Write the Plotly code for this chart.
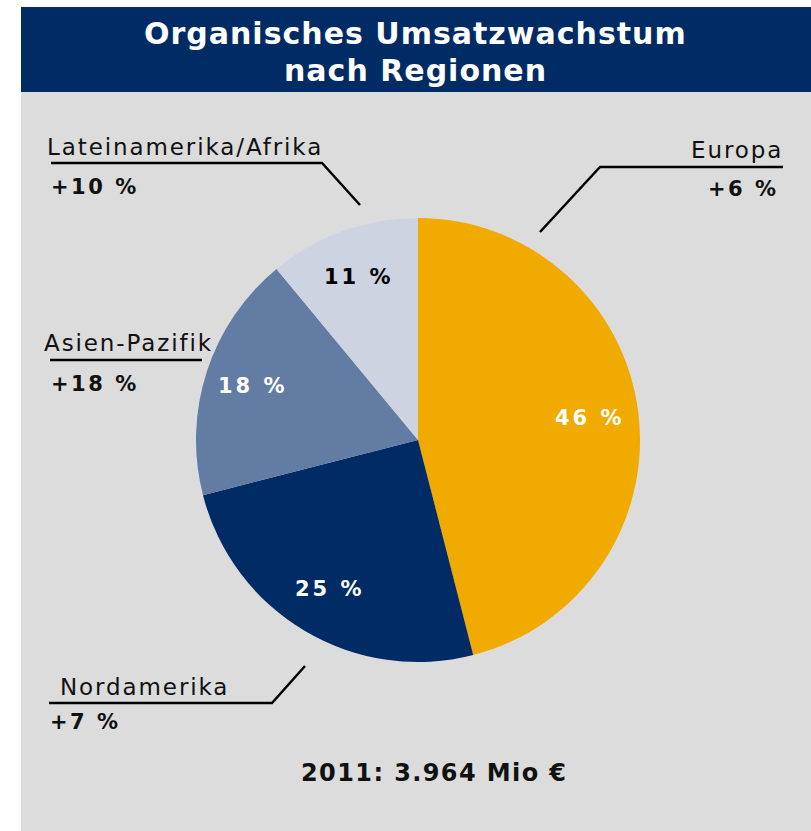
import math
import plotly.graph_objects as go

# ---- data ----
regions = ["Europa", "Nordamerika", "Asien-Pazifik", "Lateinamerika/Afrika"]
shares = [46, 25, 18, 11]
share_labels = ["46 %", "25 %", "18 %", "11 %"]
growth_labels = ["+6 %", "+7 %", "+18 %", "+10 %"]
title_lines = ["Organisches Umsatzwachstum", "nach Regionen"]
footer = "2011: 3.964 Mio €"

# ---- styles ----
W, H = 811, 831
NAVY = "#002B64"
ORANGE = "#F0AA00"
SLATE = "#637CA4"
LIGHT = "#CDD3E1"
GRAY = "#DCDCDC"
slice_colors = [ORANGE, NAVY, SLATE, LIGHT]
text_colors = ["white", "white", "white", "black"]
FONT = "DejaVu Sans"
LABEL_R = 0.78  # radial position of the share labels (fraction of radius)

# pie geometry (pixels)
cx, cy, r = 418, 440, 222

fig = go.Figure()
fig.add_trace(go.Pie(
    labels=regions, values=shares,
    textinfo="none",
    sort=False, direction="clockwise", rotation=0,
    marker=dict(colors=slice_colors, line=dict(width=0)),
    hoverinfo="skip", showlegend=False,
    domain=dict(x=[(cx - r) / W, (cx + r) / W],
                y=[(H - cy - r) / H, (H - cy + r) / H]),
))

# pixel-coordinate helper axes
fig.update_xaxes(range=[0, W], visible=False, fixedrange=True)
fig.update_yaxes(range=[H, 0], visible=False, fixedrange=True)

shapes = [
    dict(type="rect", x0=21, x1=W, y0=92, y1=H, fillcolor=GRAY, line_width=0, layer="below"),
    dict(type="rect", x0=21, x1=W, y0=7, y1=92, fillcolor=NAVY, line_width=0, layer="below"),
]
leaders = {
    "Lateinamerika/Afrika": [(51, 163), (322, 163), (360, 205)],
    "Europa": [(783, 167), (600, 167), (540, 232)],
    "Asien-Pazifik": [(50, 360), (202, 360)],
    "Nordamerika": [(49, 703), (272, 703), (305, 666)],
}
for pts in leaders.values():
    path = "M " + " L ".join(f"{x},{y}" for x, y in pts)
    shapes.append(dict(type="path", path=path, line=dict(color="black", width=2.5)))
for s in shapes:
    s["xref"] = "x"
    s["yref"] = "y"

def sp(t, ls):
    return f'<span style="letter-spacing:{ls}px">{t}</span>'

ann = []
# title
ann.append(dict(x=415, y=33, text=sp(f"<b>{title_lines[0]}</b>", 1.0), showarrow=False,
                font=dict(family=FONT, size=30, color="white"), xanchor="center", yanchor="middle"))
ann.append(dict(x=415, y=70, text=sp(f"<b>{title_lines[1]}</b>", 1.0), showarrow=False,
                font=dict(family=FONT, size=30, color="white"), xanchor="center", yanchor="middle"))

# share labels inside the slices, placed at each slice's mid angle
total = sum(shares)
cum = 0
for val, lab, col in zip(shares, share_labels, text_colors):
    mid = (cum + val / 2) / total * 2 * math.pi
    cum += val
    ann.append(dict(x=cx + LABEL_R * r * math.sin(mid), y=cy - LABEL_R * r * math.cos(mid),
                    text=sp(f"<b>{lab}</b>", 3), showarrow=False,
                    font=dict(family=FONT, size=21, color=col), xanchor="center", yanchor="middle"))

# region labels: (x name, y name, x growth, y growth, anchor)
label_pos = {
    "Europa": (785, 150, 781, 189, "right"),
    "Nordamerika": (58, 687, 48, 722, "left"),
    "Asien-Pazifik": (42, 343, 49, 384, "left"),
    "Lateinamerika/Afrika": (45, 147, 49, 187, "left"),
}
for reg, g in zip(regions, growth_labels):
    xn, yn, xg, yg, anc = label_pos[reg]
    ann.append(dict(x=xn, y=yn, text=sp(reg, 1.9), showarrow=False,
                    font=dict(family=FONT, size=23, color="#111111"), xanchor=anc, yanchor="middle"))
    ann.append(dict(x=xg, y=yg, text=sp(f"<b>{g}</b>", 2.5), showarrow=False,
                    font=dict(family=FONT, size=21, color="#111111"), xanchor=anc, yanchor="middle"))

ann.append(dict(x=434, y=773, text=sp(f"<b>{footer}</b>", 1.4), showarrow=False,
                font=dict(family=FONT, size=24, color="#111111"), xanchor="center", yanchor="middle"))

for a in ann:
    a["xref"] = "x"
    a["yref"] = "y"

fig.update_layout(
    width=W, height=H, autosize=False,
    margin=dict(l=0, r=0, t=0, b=0, pad=0),
    paper_bgcolor="white", plot_bgcolor="rgba(0,0,0,0)",
    shapes=shapes, annotations=ann,
)

fig.write_html("out.html", post_script="document.body.style.margin='0px';",
               config={"displayModeBar": False})
